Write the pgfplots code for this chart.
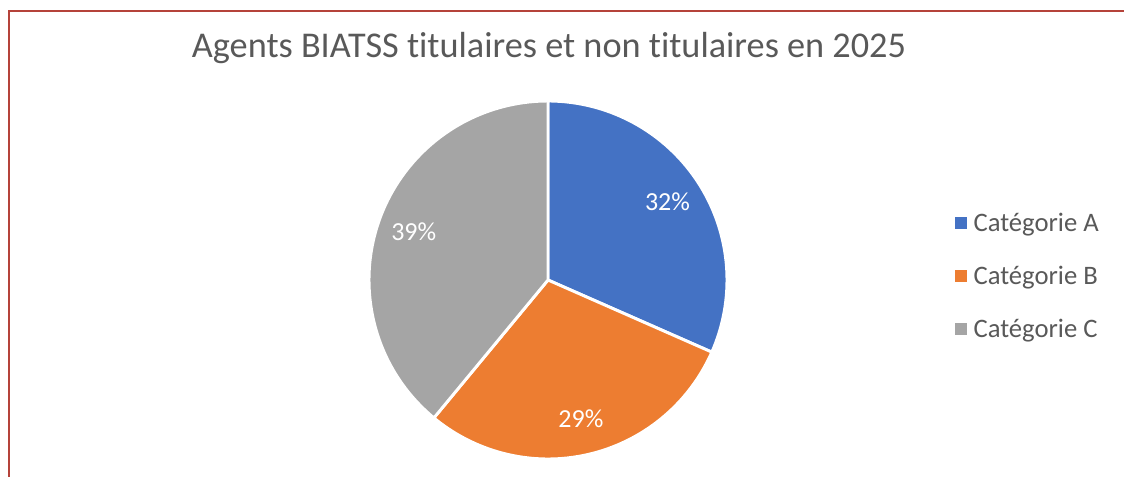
\documentclass[border=0pt]{standalone}
\usepackage{fontspec}
\setmainfont{Carlito}[Ligatures=NoCommon]
\usepackage{pgfplots}
\pgfplotsset{compat=1.18}
\usepackage{pgfplotstable}

\definecolor{catA}{HTML}{4472C4}
\definecolor{catB}{HTML}{ED7D31}
\definecolor{catC}{HTML}{A5A5A5}
\definecolor{txtgray}{HTML}{595959}
\definecolor{frame}{HTML}{B5433A}

% share of each category (%)
\pgfplotstableread{
cat val
A 31.6
B 29.4
C 39.0
}\piedata

\begin{document}
\begin{tikzpicture}
\pgfplotstablegetelem{0}{val}\of\piedata \let\va\pgfplotsretval
\pgfplotstablegetelem{1}{val}\of\piedata \let\vb\pgfplotsretval
\pgfplotstablegetelem{2}{val}\of\piedata \let\vc\pgfplotsretval
\pgfmathsetmacro{\aA}{90-3.6*\va}
\pgfmathsetmacro{\aB}{\aA-3.6*\vb}
\pgfmathsetmacro{\aC}{\aB-3.6*\vc}
\pgfmathsetmacro{\mA}{(90+\aA)/2}
\pgfmathsetmacro{\mB}{(\aA+\aB)/2}
\pgfmathsetmacro{\mC}{(\aB+\aC)/2}
\def\R{134.25pt}
\def\L{107pt}
\begin{axis}[
  scale only axis,
  width=843pt, height=357pt,
  xmin=0, xmax=1124, ymin=0, ymax=476,
  hide axis,
  legend style={at={(axis cs:955,266)}, anchor=north west, draw=none, fill=none,
    font=\fontsize{20pt}{22pt}\selectfont, text=txtgray, row sep=20.5pt,
    inner sep=0pt},
  legend cell align=left,
  legend image code/.code={\fill[#1] (0pt,-4.1pt) rectangle (8.25pt,4.1pt);
    \path[draw=none, fill=none] (8.25pt,0pt) -- (11.5pt,0pt);},
]
\addlegendimage{catA}\addlegendentry{Catégorie A}
\addlegendimage{catB}\addlegendentry{Catégorie B}
\addlegendimage{catC}\addlegendentry{Catégorie C}

% frame (top and left sides visible)
\draw[frame, line width=1.6pt] (axis cs:9,-10) -- (axis cs:9,465) -- (axis cs:1140,465);

% slices
\filldraw[fill=catA, draw=white, line width=2.2pt, line join=round]
  (axis cs:548,196) -- +(90:\R) arc[start angle=90, end angle=\aA, radius=\R] -- cycle;
\filldraw[fill=catB, draw=white, line width=2.2pt, line join=round]
  (axis cs:548,196) -- +(\aA:\R) arc[start angle=\aA, end angle=\aB, radius=\R] -- cycle;
\filldraw[fill=catC, draw=white, line width=2.2pt, line join=round]
  (axis cs:548,196) -- +(\aB:\R) arc[start angle=\aB, end angle=\aC, radius=\R] -- cycle;

% data labels
\path (axis cs:548,196) ++(\mA:\L) node[white, font=\fontsize{19.5pt}{22pt}\selectfont] {32\%};
\path (axis cs:548,196) ++(\mB:\L) node[white, font=\fontsize{19.5pt}{22pt}\selectfont] {29\%};
\path (axis cs:548,196) ++(\mC:\L) node[white, font=\fontsize{19.5pt}{22pt}\selectfont] {39\%};

% title
\node[anchor=base, text=txtgray, font=\fontsize{27.2pt}{30pt}\selectfont]
  at (axis cs:549,418) {Agents BIATSS titulaires et non titulaires en 2025};
\end{axis}
\path (current axis.south west) rectangle (current axis.north east);
\end{tikzpicture}
\end{document}
